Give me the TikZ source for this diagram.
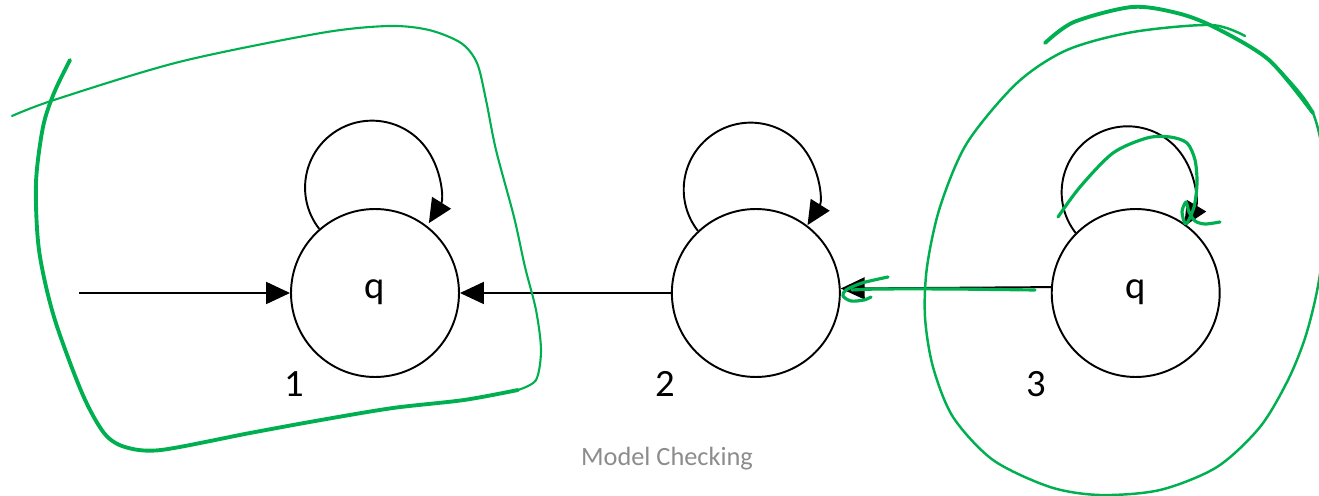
\documentclass[tikz,border=0pt]{standalone}
\usepackage{fontspec}
\setmainfont{Carlito}
\usepackage{tikz}
\usetikzlibrary{arrows.meta,positioning}
\definecolor{InkGreen}{HTML}{00B050}
\definecolor{CaptionGray}{HTML}{8C8C8C}
\tikzset{
  % State circle
  ST/.style={circle,draw,line width=1.1pt,minimum size=3.36cm,inner sep=0pt,
             font=\fontsize{22}{26}\selectfont,text height=1.5ex,text depth=.25ex},
  % Arrow
  arr/.style={-{Triangle[length=0.48cm,width=0.44cm]},line width=1.1pt},
  % State numbers
  LB/.style={font=\fontsize{22}{26}\selectfont},
  % Pen strokes
  GP/.style={draw=InkGreen,line width=1.2pt,line cap=round,line join=round},
  GT/.style={GP,line width=2.2pt}
}

\begin{document}
\begin{tikzpicture}[x=0.02cm,y=-0.02cm]
  \useasboundingbox (0,0) rectangle (1319,496);

  \node[ST] (s1) at (375,293) {q};
  \node[ST,right=4.22cm of s1] (s2) {};
  \node[ST,right=4.2cm of s2]  (s3) {q};
  \coordinate[left=4.22cm of s1] (init);

  \node[LB] (n1) at ([shift={(-81,91)}]s1.center) {1};
  \node[LB] (n2) at ([shift={(-91,91)}]s2.center) {2};
  \node[LB] (n3) at ([shift={(-99,91)}]s3.center) {3};
  \node[text=CaptionGray,font=\fontsize{15}{18}\selectfont] (cap) at (667,459) {Model Checking};

  \draw[arr] (init) -- (s1);
  \draw[arr] (s2.west) -- (s1.east);
  \draw[arr] (s3.176) -- (s2.3);
  % self loops
  \draw[arr] (s1.131) arc[start angle=218,end angle=-32,radius=1.34cm];
  \draw[arr] (s2.133) arc[start angle=218,end angle=-32,radius=1.34cm];
  \draw[arr] (s3.135) arc[start angle=218,end angle=-31,radius=1.32cm];

  % pen marks round state 1
  \draw[GP] plot[smooth] coordinates {(12,116) (54,100) (179,62) (321,33) (389,26)
    (429,30) (461,43) (477,63) (486,100) (496,150) (514,217) (525,267) (536,310)
    (541,350) (536,380) (518,390)};
  \draw[GT] plot[smooth] coordinates {(518,390) (464,400) (393,408) (321,420)
    (250,433) (161,450) (125,447) (104,433) (82,393) (54,317) (39,250) (36,183)
    (43,127) (54,93) (70,60)};

  % pen marks round state 3
  \draw[GT] plot[smooth] coordinates {(1045,43) (1074,22) (1132,7) (1177,13)
    (1214,27) (1269,60) (1313,113)};
  \draw[GP,line width=1.4pt] plot[smooth] coordinates {(1269,60) (1313,113) (1328,200)
    (1319,280) (1306,335) (1288,380) (1260,427) (1217,467) (1160,490) (1100,495)
    (1050,487) (993,460) (953,417) (933,367) (925,317) (927,267) (940,207) (967,143)
    (1017,83) (1067,50) (1133,32) (1211,25) (1245,36)};
  \draw[GT,line width=1.8pt] plot[smooth] coordinates {(1058,217) (1080,187)
    (1113,153) (1147,138) (1170,137) (1187,143) (1195,160) (1197,183) (1194,207)
    (1186,224) (1182,212) (1186,202) (1189,212) (1195,221) (1205,224) (1220,222)};

  % pen arrow into state 2
  \draw[GT,line width=1.8pt] plot[smooth] coordinates {(1035,290) (950,289) (880,289) (852,290)};
  \draw[GT,line width=1.8pt] plot[smooth] coordinates {(888,277) (862,283) (846,290)
    (843,296) (851,301) (864,300) (871,297)};
\end{tikzpicture}
\end{document}
